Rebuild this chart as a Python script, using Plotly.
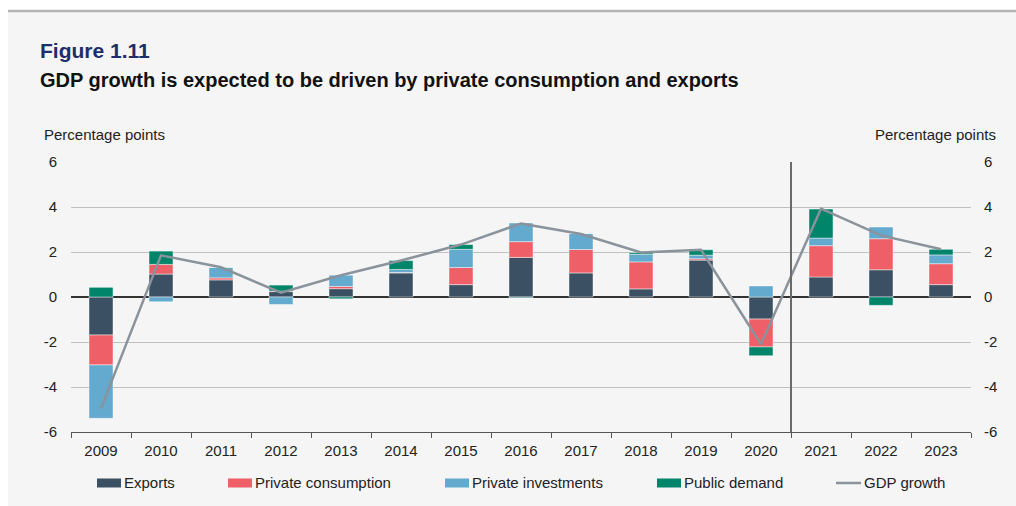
import plotly.graph_objects as go

# Contributions to GDP growth, percentage points
years = ["2009", "2010", "2011", "2012", "2013", "2014", "2015", "2016",
         "2017", "2018", "2019", "2020", "2021", "2022", "2023"]
exports = [-1.69, 1.02, 0.76, 0.24, 0.37, 1.07, 0.55, 1.76,
           1.07, 0.36, 1.64, -0.98, 0.89, 1.21, 0.55]
private_consumption = [-1.33, 0.43, 0.09, 0.02, 0.10, 0.02, 0.76, 0.70,
                       1.04, 1.20, 0.06, -1.24, 1.39, 1.38, 0.93]
private_investments = [-2.37, -0.21, 0.47, -0.33, 0.50, 0.13, 0.81, 0.83,
                       0.71, 0.34, 0.16, 0.49, 0.34, 0.52, 0.39]
public_demand = [0.43, 0.59, 0.00, 0.27, -0.08, 0.40, 0.21, -0.03,
                 0.00, 0.07, 0.24, -0.39, 1.29, -0.37, 0.25]
gdp_growth = [-4.95, 1.85, 1.32, 0.19, 0.97, 1.62, 2.33, 3.27,
              2.80, 1.98, 2.10, -2.10, 3.93, 2.74, 2.12]
y_ticks = [-6, -4, -2, 0, 2, 4, 6]
y_tick_labels = ["-6", "-4", "-2", "0", "2", "4", "6"]
forecast_start = "2021"

series = [
    ("Exports", exports, "#3b5163"),
    ("Private consumption", private_consumption, "#ef5f68"),
    ("Private investments", private_investments, "#64a9ce"),
    ("Public demand", public_demand, "#00856a"),
]
line_name, line_color = "GDP growth", "#8a939b"

FONT = "Liberation Sans, Arial, sans-serif"
W, H = 1016, 506
L, R, T, B = 71, 45, 162, 74
PW, PH = W - L - R, H - T - B


def px_x(px):
    return (px - L) / PW


def px_y(py):
    return (H - B - py) / PH


fig = go.Figure()
for name, vals, color in series:
    fig.add_trace(go.Bar(
        x=years, y=vals, name=name, marker_color=color,
        marker_line=dict(color="rgba(255,255,255,0.55)", width=0.8),
        showlegend=False,
    ))
fig.add_trace(go.Scatter(
    x=years, y=gdp_growth, name=line_name, mode="lines",
    line=dict(color=line_color, width=2.5), yaxis="y2", showlegend=False,
))

shapes = [
    # panel background and top rule
    dict(type="rect", xref="paper", yref="paper", x0=px_x(8), x1=px_x(W + 2),
         y0=px_y(H + 2), y1=px_y(11), fillcolor="#f5f5f5", line_width=0,
         layer="below"),
    dict(type="line", xref="paper", yref="paper", x0=px_x(8), x1=px_x(W + 2),
         y0=px_y(11), y1=px_y(11), line=dict(color="#b3b3b3", width=2.5)),
]
# separator between outturn and forecast years
sep = years.index(forecast_start) - 0.5
shapes.append(dict(type="line", xref="x", yref="y", x0=sep, x1=sep,
                   y0=min(y_ticks), y1=max(y_ticks),
                   line=dict(color="#6a6a6a", width=2), layer="above"))

text_color = "#222222"
annotations = [
    dict(text="<b>Figure 1.11</b>", x=px_x(38), y=px_y(50), xref="paper",
         yref="paper", xanchor="left", yanchor="middle", showarrow=False,
         font=dict(family=FONT, size=21, color="#1f2d6b")),
    dict(text="<b>GDP growth is expected to be driven by private consumption and exports</b>",
         x=px_x(38), y=px_y(80), xref="paper", yref="paper", xanchor="left",
         yanchor="middle", showarrow=False,
         font=dict(family=FONT, size=20, color="#111111")),
    dict(text="Percentage points", x=px_x(42), y=px_y(135), xref="paper",
         yref="paper", xanchor="left", yanchor="middle", showarrow=False,
         font=dict(family=FONT, size=15, color=text_color)),
    dict(text="Percentage points", x=px_x(998), y=px_y(135), xref="paper",
         yref="paper", xanchor="right", yanchor="middle", showarrow=False,
         font=dict(family=FONT, size=15, color=text_color)),
]

# legend row
legend_x = [97, 228, 445, 657, 836]
legend_y = 483
for (name, _, color), x0 in zip(series, legend_x):
    shapes.append(dict(type="rect", xref="paper", yref="paper",
                       x0=px_x(x0), x1=px_x(x0 + 24),
                       y0=px_y(legend_y + 4.5), y1=px_y(legend_y - 4.5),
                       fillcolor=color, line_width=0))
    annotations.append(dict(text=name, x=px_x(x0 + 25), y=px_y(legend_y - 0.5),
                            xref="paper", yref="paper", xanchor="left",
                            yanchor="middle", showarrow=False,
                            font=dict(family=FONT, size=15, color=text_color)))
x0 = legend_x[-1]
shapes.append(dict(type="line", xref="paper", yref="paper",
                   x0=px_x(x0), x1=px_x(x0 + 25),
                   y0=px_y(legend_y), y1=px_y(legend_y),
                   line=dict(color=line_color, width=2.5)))
annotations.append(dict(text=line_name, x=px_x(x0 + 26), y=px_y(legend_y - 0.5),
                        xref="paper", yref="paper", xanchor="left",
                        yanchor="middle", showarrow=False,
                        font=dict(family=FONT, size=15, color=text_color)))

axis_font = dict(family=FONT, size=15, color=text_color)
fig.update_layout(
    width=W, height=H,
    margin=dict(l=L, r=R, t=T, b=B, pad=0),
    paper_bgcolor="white", plot_bgcolor="rgba(0,0,0,0)",
    barmode="relative", bargap=0.6,
    showlegend=False,
    shapes=shapes, annotations=annotations,
    xaxis=dict(
        type="category", categoryorder="array", categoryarray=years,
        showline=True, linecolor="#555555", linewidth=1,
        ticks="outside", tickson="boundaries", ticklen=5, tickcolor="#555555",
        tickfont=axis_font, ticklabelstandoff=5, showgrid=False,
        zeroline=False,
    ),
    yaxis=dict(
        range=[min(y_ticks), max(y_ticks)], tickvals=y_ticks,
        ticktext=y_tick_labels,
        tickfont=axis_font, showgrid=True, gridcolor="#c0c0c0", gridwidth=1,
        zeroline=True, zerolinecolor="#333333", zerolinewidth=1.5,
        ticks="", ticklabelstandoff=13, showline=False,
    ),
    yaxis2=dict(
        range=[min(y_ticks), max(y_ticks)], tickvals=y_ticks,
        ticktext=y_tick_labels,
        overlaying="y", side="right", tickfont=axis_font, showgrid=False,
        zeroline=False, ticks="", ticklabelstandoff=12, showline=False,
    ),
)

fig.write_html("out.html")
